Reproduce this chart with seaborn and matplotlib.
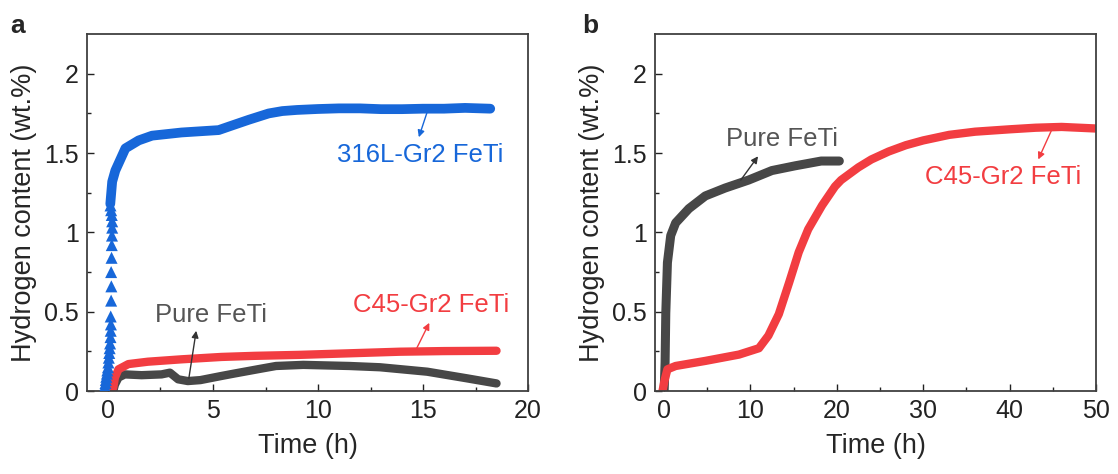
import numpy as np
import pandas as pd
import matplotlib.pyplot as plt
import seaborn as sns

# === Panel a data ===
a_blue_tri_t = [-0.18, -0.15, -0.12, -0.1, -0.08, -0.05, -0.03, 0.0, 0.02, 0.04, 0.06, 0.08,
                0.1, 0.12, 0.13, 0.14, 0.13, 0.15, 0.16, 0.15, 0.17, 0.18, 0.19, 0.2, 0.2, 0.18, 0.15, 0.12]
a_blue_tri_h = [0.01, 0.03, 0.05, 0.07, 0.09, 0.11, 0.13, 0.15, 0.18, 0.21, 0.24, 0.27,
                0.3, 0.34, 0.38, 0.42, 0.47, 0.57, 0.66, 0.75, 0.84, 0.92, 0.98, 1.03, 1.07, 1.11, 1.14, 1.17]
a_blue_t = [0.11, 0.2, 0.35, 0.83, 1.46, 2.1, 3.5, 5.27, 5.75, 6.7, 7.65, 8.3, 9.0, 10.0,
            11.0, 12.0, 13.0, 14.0, 15.0, 16.0, 17.0, 18.2]
a_blue_h = [1.18, 1.32, 1.39, 1.53, 1.58, 1.61, 1.63, 1.645, 1.667, 1.71, 1.75, 1.765, 1.772, 1.778,
            1.782, 1.782, 1.777, 1.777, 1.78, 1.78, 1.785, 1.78]
a_red_t = [0.25, 0.33, 0.5, 0.97, 1.9, 3.5, 5.4, 7.0, 9.1, 11.5, 13.9, 16.0, 18.5]
a_red_h = [0.02, 0.085, 0.137, 0.17, 0.185, 0.2, 0.215, 0.222, 0.228, 0.238, 0.248, 0.252, 0.254]
a_gray_t = [0.25, 0.33, 0.5, 0.8, 1.6, 2.55, 2.95, 3.34, 3.8, 4.4, 5.4, 6.0, 7.24, 8.0, 9.3,
            11.5, 12.95, 15.2, 17.1, 18.5]
a_gray_h = [0.0, 0.04, 0.085, 0.105, 0.1, 0.105, 0.116, 0.074, 0.063, 0.069, 0.095, 0.11, 0.14, 0.158, 0.165,
            0.158, 0.15, 0.122, 0.08, 0.048]

# === Panel b data ===
b_gray_t = [0.04, 0.15, 0.23, 0.42, 0.8, 1.37, 2.9, 4.8, 7.1, 9.8, 12.5, 15.2, 18.2, 20.3]
b_gray_h = [0.0, 0.18, 0.49, 0.81, 0.98, 1.06, 1.15, 1.23, 1.28, 1.33, 1.39, 1.42, 1.45, 1.45]
b_red_t = [-0.15, 0.1, 0.42, 1.37, 4.8, 8.7, 11.0, 12.1, 13.3, 14.5, 15.6, 16.7, 18.3, 19.8,
           20.5, 21.5, 22.5, 24.0, 26.0, 28.0, 30.0, 33.0, 36.0, 40.0, 43.0, 46.0, 48.0, 50.0]
b_red_h = [0.0, 0.07, 0.137, 0.158, 0.19, 0.23, 0.27, 0.35, 0.485, 0.685, 0.875, 1.02, 1.17, 1.29,
           1.33, 1.37, 1.41, 1.46, 1.51, 1.55, 1.58, 1.615, 1.635, 1.65, 1.66, 1.665, 1.66, 1.655]

ytick_vals = [0, 0.5, 1, 1.5, 2]
ytick_labels = ["0", "0.5", "1", "1.5", "2"]

BLUE = "#1767d9"
RED = "#f23d41"
GRAY = "#474747"

sns.set_theme(style="ticks")
plt.rcParams["font.family"] = ["Liberation Sans", "DejaVu Sans"]

fig = plt.figure(figsize=(11.18, 4.74), dpi=100)
ax_a = fig.add_axes([0.0778, 0.175, 0.3945, 0.753])
ax_b = fig.add_axes([0.586, 0.175, 0.3945, 0.753])

# Panel a
sns.lineplot(x=a_gray_t, y=a_gray_h, ax=ax_a, color=GRAY, lw=6, sort=False, estimator=None)
sns.lineplot(x=a_red_t, y=a_red_h, ax=ax_a, color=RED, lw=6, sort=False, estimator=None)
sns.lineplot(x=a_blue_t, y=a_blue_h, ax=ax_a, color=BLUE, lw=7, sort=False, estimator=None)
sns.scatterplot(x=a_blue_tri_t, y=a_blue_tri_h, ax=ax_a, color=BLUE, marker="^", s=75,
                edgecolor="none", zorder=3)

# Panel b
sns.lineplot(x=b_gray_t, y=b_gray_h, ax=ax_b, color=GRAY, lw=6.5, sort=False, estimator=None)
sns.lineplot(x=b_red_t, y=b_red_h, ax=ax_b, color=RED, lw=6, sort=False, estimator=None)

arrow_kw = dict(arrowstyle="-|>", lw=1.0, mutation_scale=10, shrinkA=0, shrinkB=0)

# annotations panel a
ax_a.annotate("", xy=(14.8, 1.60), xytext=(15.2, 1.76), arrowprops=dict(color=BLUE, **arrow_kw))
ax_a.text(14.85, 1.49, "316L-Gr2 FeTi", color=BLUE, fontsize=18.5, ha="center", va="center")
ax_a.annotate("", xy=(15.3, 0.43), xytext=(14.7, 0.27), arrowprops=dict(color=RED, **arrow_kw))
ax_a.text(15.4, 0.54, "C45-Gr2 FeTi", color=RED, fontsize=18.5, ha="center", va="center")
ax_a.annotate("", xy=(4.2, 0.38), xytext=(3.85, 0.08), arrowprops=dict(color="#333333", **arrow_kw))
ax_a.text(4.9, 0.48, "Pure FeTi", color="#555555", fontsize=18.5, ha="center", va="center")

# annotations panel b
ax_b.annotate("", xy=(10.9, 1.48), xytext=(8.9, 1.33), arrowprops=dict(color="#333333", **arrow_kw))
ax_b.text(13.7, 1.59, "Pure FeTi", color="#555555", fontsize=18.5, ha="center", va="center")
ax_b.annotate("", xy=(43.3, 1.46), xytext=(44.8, 1.64), arrowprops=dict(color=RED, **arrow_kw))
ax_b.text(39.2, 1.35, "C45-Gr2 FeTi", color=RED, fontsize=18.5, ha="center", va="center")

for ax, xlim, xt, xminor in [(ax_a, (-1, 20), [0, 5, 10, 15, 20], np.arange(2.5, 20, 5)),
                             (ax_b, (-1, 50), [0, 10, 20, 30, 40, 50], np.arange(5, 50, 10))]:
    ax.set_xlim(*xlim)
    ax.set_ylim(0, 2.25)
    ax.set_xticks(xt)
    ax.set_xticks(xminor, minor=True)
    ax.set_yticks(ytick_vals, labels=ytick_labels)
    ax.set_yticks([0.25, 0.75, 1.25, 1.75], minor=True)
    ax.tick_params(which="both", direction="in", top=False, right=False,
                   labelsize=18, colors="#222222", width=1.0, pad=6)
    ax.tick_params(which="major", length=5)
    ax.tick_params(which="minor", length=3)
    for sp in ax.spines.values():
        sp.set_visible(True)
        sp.set_color("#404040")
        sp.set_linewidth(1.3)
    ax.set_xlabel("Time (h)", fontsize=19.5, labelpad=7)
    ax.set_ylabel("Hydrogen content (wt.%)", fontsize=19.5, labelpad=5)

fig.text(0.009, 0.945, "a", fontsize=19, fontweight="bold", va="center")
fig.text(0.521, 0.945, "b", fontsize=19, fontweight="bold", va="center")

plt.savefig("out.png", dpi=100)
